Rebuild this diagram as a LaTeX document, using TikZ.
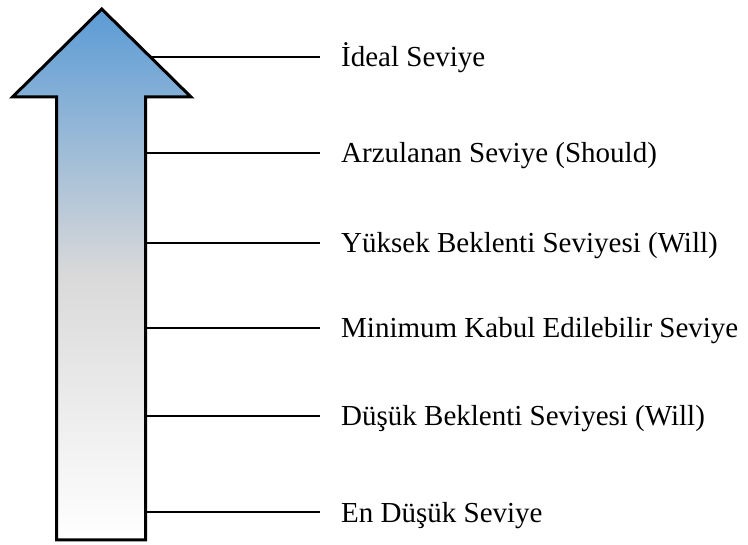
\documentclass[tikz,border=0pt]{standalone}
\usepackage{fontspec}
\setmainfont{Liberation Serif}
\usepackage{tikz}

\definecolor{levelblue}{RGB}{91,155,213}
\definecolor{levelgrey}{RGB}{217,217,217}

\begin{document}
\begin{tikzpicture}[x=1pt, y=-1pt,
    level/.style={anchor=west, inner xsep=21pt, inner ysep=0pt,
        text height=20pt, text depth=0pt,
        font=\fontsize{29}{34}\selectfont},
    tick/.style={line width=2.3pt}]
    \useasboundingbox (0,0) rectangle (748,545);
    \coordinate (T) at (101.7,9);
    \coordinate (HL) at (12.5,97);
    \coordinate (HR) at (191,97);
    \coordinate (SLT) at (56.7,97);
    \coordinate (SRT) at (145.7,97);
    \coordinate (SLB) at (56.7,540);
    \coordinate (SRB) at (145.7,540);
    % Ok: mavi - gri - beyaz
    \draw[line width=3pt, top color=levelblue, bottom color=white, middle color=levelgrey]
        (T) -- (HR) -- (SRT) -- (SRB) -- (SLB) -- (SLT) -- (HL) -- cycle;
    % Seviyeler
    \foreach \x/\y/\n/\t in {151.7/57/ideal/İdeal Seviye,
                            145.7/153/arzu/Arzulanan Seviye (Should),
                            145.7/243/yuksek/Yüksek Beklenti Seviyesi (Will),
                            145.7/328/minimum/Minimum Kabul Edilebilir Seviye,
                            145.7/416/dusuk/Düşük Beklenti Seviyesi (Will),
                            145.7/512/endusuk/En Düşük Seviye} {
        \coordinate (\n-e) at (\x,\y);
        \node[level] (\n) at (320,\y) {\t};
        \draw[tick] (\n-e) -- (\n.west);
    }
\end{tikzpicture}
\end{document}
